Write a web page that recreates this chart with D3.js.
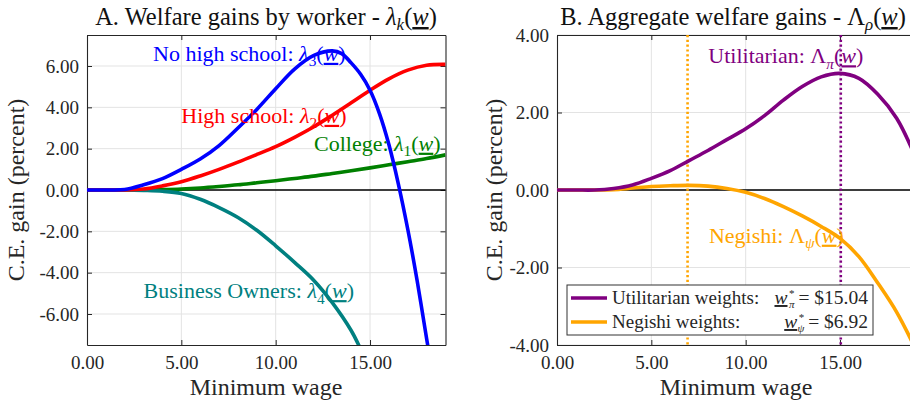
<!DOCTYPE html>
<html><head><meta charset="utf-8">
<script src="https://cdn.jsdelivr.net/npm/d3@7"></script>
<style>
html,body{margin:0;padding:0;background:#fff;}
svg text{font-family:"Liberation Serif","DejaVu Serif",serif !important;}
</style></head>
<body><svg id="chart" width="910" height="405"></svg>
<script>
// ---------- DATA ----------
const wage = [0,1,2,3,4,5,6,7,8,9,10,11,12,13,14,15,16,17,18,19];
const highSchool = [0,0,0,0.05,0.2,0.4,0.68,1.0,1.35,1.72,2.1,2.55,3.05,3.62,4.22,4.83,5.38,5.8,6.04,6.08];
const college = [0,0,0,0,0.02,0.05,0.1,0.17,0.25,0.35,0.45,0.56,0.67,0.8,0.93,1.07,1.22,1.37,1.52,1.7];
const wageNoHS = [0,1,2,3,4,5,6,7,8,9,10,11,12,13,13.5,14,14.5,15,15.5,16,16.5,17,17.5,18,18.3];
const noHighSchool = [0,0,0.02,0.25,0.55,1.0,1.5,2.15,3.0,3.9,4.9,5.85,6.5,6.73,6.6,6.15,5.6,4.83,3.7,2.2,0.3,-1.9,-4.4,-7.2,-8.8];
const wageBiz = [0,1,2,3,4,5,6,7,8,9,10,11,12,13,14,14.5];
const business = [0,0,0,-0.02,-0.06,-0.17,-0.45,-0.85,-1.33,-1.95,-2.7,-3.5,-4.35,-5.45,-6.8,-7.7];
const utilitarian = [0,0,0,0.04,0.13,0.3,0.5,0.76,1.02,1.3,1.58,1.92,2.32,2.67,2.92,3.01,2.88,2.47,1.85,0.85];
const negishi = [0,0,0,0.01,0.05,0.09,0.11,0.12,0.1,0.04,-0.06,-0.22,-0.43,-0.67,-0.94,-1.25,-1.72,-2.4,-3.15,-4.1];
const optUtil = 15.04, optNeg = 6.92;
const xTicks = [0,5,10,15];
const yTicksA = [-6,-4,-2,0,2,4,6];
const yTicksB = [-4,-2,0,2,4];

// ---------- LAYOUT ----------
const svg = d3.select("#chart");
const H = {top:35, bottom:345};
const pA = {left:87, right:445.5};
const pB = {left:557, right:915.5};
const xA = d3.scaleLinear().domain([0,19]).range([pA.left,pA.right]);
const yA = d3.scaleLinear().domain([-7.5,7.5]).range([H.bottom,H.top]);
const xB = d3.scaleLinear().domain([0,19]).range([pB.left,pB.right]);
const yB = d3.scaleLinear().domain([-4,4]).range([H.bottom,H.top]);
const fmt = d => d.toFixed(2);
const defs = svg.append("defs");
defs.append("clipPath").attr("id","clipA").append("rect")
  .attr("x",pA.left).attr("y",H.top).attr("width",pA.right-pA.left).attr("height",H.bottom-H.top);
defs.append("clipPath").attr("id","clipB").append("rect")
  .attr("x",pB.left).attr("y",H.top).attr("width",pB.right-pB.left).attr("height",H.bottom-H.top);

function panel(x,y,yTicks){
  const g = svg.append("g");
  g.append("g").selectAll("line").data(xTicks.filter(d=>d>0)).join("line")
    .attr("x1",d=>x(d)).attr("x2",d=>x(d)).attr("y1",H.top).attr("y2",H.bottom)
    .attr("stroke","#e3e3e3").attr("stroke-width",1);
  g.append("g").selectAll("line").data(yTicks).join("line")
    .attr("x1",x.range()[0]).attr("x2",x.range()[1]).attr("y1",d=>y(d)).attr("y2",d=>y(d))
    .attr("stroke","#e3e3e3").attr("stroke-width",1);
  const ax = g.append("g").attr("transform",`translate(0,${H.bottom})`)
    .call(d3.axisBottom(x).tickValues(xTicks).tickFormat(fmt).tickSizeInner(-5).tickSizeOuter(0).tickPadding(11));
  const ay = g.append("g").attr("transform",`translate(${x.range()[0]},0)`)
    .call(d3.axisLeft(y).tickValues(yTicks).tickFormat(fmt).tickSizeInner(-5).tickSizeOuter(0).tickPadding(8));
  const axTop = g.append("g").attr("transform",`translate(0,${H.top})`)
    .call(d3.axisTop(x).tickValues(xTicks).tickFormat("").tickSizeInner(-5).tickSizeOuter(0));
  const ayR = g.append("g").attr("transform",`translate(${x.range()[1]},0)`)
    .call(d3.axisRight(y).tickValues(yTicks).tickFormat("").tickSizeInner(-5).tickSizeOuter(0));
  [ax,ay,axTop,ayR].forEach(a=>{
    a.selectAll(".domain").attr("stroke","#262626").attr("stroke-width",1.1);
    a.selectAll(".tick line").attr("stroke","#262626");
    a.selectAll("text").attr("fill","#262626").style("font-size","19px");
  });
  return g;
}
const gA = panel(xA,yA,yTicksA);
const gB = panel(xB,yB,yTicksB);

gA.append("line").attr("x1",pA.left).attr("x2",pA.right).attr("y1",yA(0)).attr("y2",yA(0)).attr("stroke","#000").attr("stroke-width",1.3);
gB.append("line").attr("x1",pB.left).attr("x2",pB.right).attr("y1",yB(0)).attr("y2",yB(0)).attr("stroke","#000").attr("stroke-width",1.3);

function drawLine(g,x,y,xs,ys,color,clip){
  const line = d3.line().x(d=>x(d[0])).y(d=>y(d[1])).curve(d3.curveCatmullRom.alpha(0.5));
  g.append("path").datum(xs.map((v,i)=>[v,ys[i]]))
    .attr("d",line).attr("fill","none").attr("stroke",color).attr("stroke-width",3.6)
    .attr("stroke-linejoin","round").attr("clip-path",`url(#${clip})`);
}
const C = {blue:"#0000ff",red:"#ff0000",green:"#008000",teal:"#008080",purple:"#800080",orange:"#ffa500"};
drawLine(gA,xA,yA,wage,college,C.green,"clipA");
drawLine(gA,xA,yA,wageBiz,business,C.teal,"clipA");
drawLine(gA,xA,yA,wage,highSchool,C.red,"clipA");
drawLine(gA,xA,yA,wageNoHS,noHighSchool,C.blue,"clipA");

[[optNeg,C.orange],[optUtil,C.purple]].forEach(([v,c])=>{
  gB.append("line").attr("x1",xB(v)).attr("x2",xB(v)).attr("y1",H.top).attr("y2",H.bottom)
    .attr("stroke",c).attr("stroke-width",2.6).attr("stroke-dasharray","2.2,2.6");
});
drawLine(gB,xB,yB,wage,negishi,C.orange,"clipB");
drawLine(gB,xB,yB,wage,utilitarian,C.purple,"clipB");

// ---------- TEXT ----------
function mathLabel(g,x,y,color,size,prefix,sym,symItalic,sub,subItalic){
  const t = g.append("text").attr("x",x).attr("y",y).attr("fill",color).style("font-size",size+"px");
  t.append("tspan").text(prefix);
  t.append("tspan").text(sym).style("font-style",symItalic?"italic":"normal");
  t.append("tspan").text(sub).attr("dy",size*0.25).style("font-size",(size*0.7)+"px").style("font-style",subItalic?"italic":"normal");
  t.append("tspan").text("(").attr("dy",-size*0.25);
  t.append("tspan").text("w").style("font-style","italic").style("text-decoration","underline");
  t.append("tspan").text(")");
  return t;
}
const fs = 22;
mathLabel(gA,xA(3.5),yA(6.25),C.blue,fs,"No high school: ","λ",true,"3",false);
mathLabel(gA,xA(5.0),yA(3.25),C.red,fs,"High school: ","λ",true,"2",false);
mathLabel(gA,xA(12.03),yA(1.9),C.green,fs,"College: ","λ",true,"1",false);
mathLabel(gA,xA(3.0),yA(-5.23),C.teal,fs,"Business Owners: ","λ",true,"4",false);
mathLabel(gB,xB(8.02),yB(3.27),C.purple,fs,"Utilitarian: ","Λ",false,"π",true);
mathLabel(gB,xB(8.05),yB(-1.36),C.orange,fs,"Negishi: ","Λ",false,"ψ",true);

function title(cx,prefix,sym,symItalic,sub){
  const t = svg.append("text").attr("x",cx).attr("y",25).attr("text-anchor","middle")
    .attr("fill","#111").style("font-size","24.5px");
  t.append("tspan").text(prefix);
  t.append("tspan").text(sym).style("font-style",symItalic?"italic":"normal");
  t.append("tspan").text(sub).attr("dy",5).style("font-size","17px").style("font-style","italic");
  t.append("tspan").text("(").attr("dy",-5);
  t.append("tspan").text("w").style("font-style","italic").style("text-decoration","underline");
  t.append("tspan").text(")");
}
title(266,"A. Welfare gains by worker - ","λ",true,"k");
title(733,"B. Aggregate welfare gains - ","Λ",false,"ρ");

[266,736].forEach(cx=>{
  svg.append("text").attr("x",cx).attr("y",395).attr("text-anchor","middle")
    .attr("fill","#262626").style("font-size","24px").text("Minimum wage");
});
[[24,190],[502,190]].forEach(([x,y])=>{
  svg.append("text").attr("transform",`translate(${x},${y}) rotate(-90)`).attr("text-anchor","middle")
    .attr("fill","#262626").style("font-size","24px").text("C.E. gain (percent)");
});

// legend
const leg = gB.append("g");
leg.append("rect").attr("x",567).attr("y",285).attr("width",306).attr("height",50)
  .attr("fill","#fff").attr("stroke","#333").attr("stroke-width",1);
const legRows = [
  {c:C.purple,label:"Utilitarian weights:",sub:"π",val:optUtil,y:298},
  {c:C.orange,label:"Negishi weights:",sub:"ψ",val:optNeg,y:322}
];
legRows.forEach(r=>{
  leg.append("line").attr("x1",571).attr("x2",607).attr("y1",r.y).attr("y2",r.y)
    .attr("stroke",r.c).attr("stroke-width",3.6);
  leg.append("text").attr("x",612).attr("y",r.y+6).attr("fill","#262626").style("font-size","19px").text(r.label);
  const val = leg.append("text").attr("x",868).attr("y",r.y+6).attr("text-anchor","end")
    .attr("fill","#262626").style("font-size","19.5px").text("= $" + r.val.toFixed(2));
  const vStart = 868 - val.node().getComputedTextLength();
  leg.append("text").attr("x",vStart-4).attr("y",r.y-1).attr("text-anchor","end")
    .attr("fill","#262626").style("font-size","11px").text("*");
  leg.append("text").attr("x",vStart-4).attr("y",r.y+10).attr("text-anchor","end")
    .attr("fill","#262626").style("font-size","11px").style("font-style","italic").text(r.sub);
  leg.append("text").attr("x",vStart-11).attr("y",r.y+6).attr("text-anchor","end")
    .attr("fill","#262626").style("font-size","19.5px").style("font-style","italic")
    .style("text-decoration","underline").text("w");
});
</script></body></html>
